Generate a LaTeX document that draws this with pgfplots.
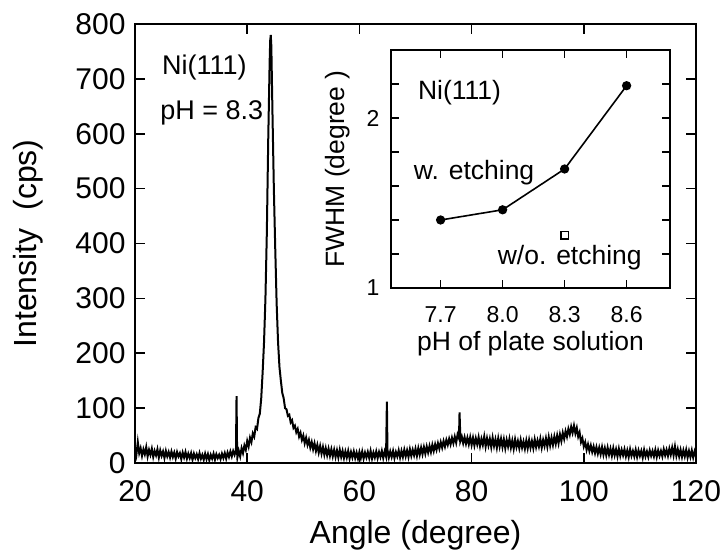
\documentclass[border=0pt]{standalone}
\usepackage{fontspec}
\setmainfont{Liberation Sans}
\usepackage{pgfplots}
\pgfplotsset{compat=1.18}
\newcommand{\tickfont}{\fontsize{30bp}{33bp}\selectfont}
\newcommand{\labfont}{\fontsize{32bp}{35bp}\selectfont}
\newcommand{\txtfont}{\fontsize{27bp}{30bp}\selectfont}
\newcommand{\itickfont}{\fontsize{23bp}{26bp}\selectfont}
\newcommand{\ilabfont}{\fontsize{26.5bp}{29bp}\selectfont}
\begin{document}
\begin{tikzpicture}
\path[use as bounding box] (0,0) rectangle (728bp,556bp);
\begin{axis}[
  at={(135bp,93bp)}, anchor=south west,
  scale only axis, width=561bp, height=439bp,
  xmin=20, xmax=120, ymin=0, ymax=800,
  xtick={20,40,60,80,100,120}, ytick={0,100,...,800},
  /pgf/number format/assume math mode=true,
  tick label style={font=\tickfont},
  major tick length=10bp,
  tick style={line width=1.6bp, black},
  axis line style={line width=1.8bp},
  xticklabel style={yshift=-14bp},
  yticklabel style={xshift=-6bp},
  xlabel={Angle (degree)}, ylabel={Intensity\ \ (cps)},
  label style={font=\labfont},
  xlabel style={at={(axis description cs:0.5,0)}, anchor=center, yshift=-72bp},
  ylabel style={at={(axis description cs:0,0.5)}, anchor=center, yshift=107bp},
]
\addplot[black, line width=2bp] coordinates {
(20,28)(20.25,15)(20.5,38)(20.75,18)(21,27)(21.25,13)(21.5,25)(21.75,16)(22,29)(22.25,12)(22.5,24)(22.75,15)
(23,26)(23.25,11)(23.5,22)(23.75,14)(24,25)(24.25,10)(24.5,23)(24.75,13)(25,21)(25.25,9)(25.5,22)(25.75,12)
(26,20)(26.25,10)(26.5,21)(26.75,11)(27,19)(27.25,8)(27.5,20)(27.75,12)(28,18)(28.25,7)(28.5,19)(28.75,10)
(29,20)(29.25,8)(29.5,17)(29.75,9)(30,18)(30.25,6)(30.5,17)(30.75,9)(31,16)(31.25,7)(31.5,18)(31.75,8)
(32,15)(32.25,6)(32.5,17)(32.75,7)(33,16)(33.25,5)(33.5,15)(33.75,8)(34,17)(34.25,6)(34.5,16)(34.75,9)
(35,15)(35.25,7)(35.5,17)(35.75,9)(36,18)(36.25,8)(36.5,19)(36.75,11)(37,21)(37.25,12)(37.5,22)(37.75,15)
(38,24)(38.1,122)(38.2,20)(38.25,10)(38.5,22)(38.75,12)(39,27)(39.25,18)(39.5,32)(39.75,24)
(40,40)(40.25,30)(40.5,46)(40.75,38)(41,54)(41.25,48)(41.5,65)(41.75,62)(42,82)(42.25,90)(42.5,118)(42.75,165)
(43,220)(43.25,300)(43.5,420)(43.75,590)(44,730)(44.1,770)(44.2,780)(44.3,760)(44.5,640)(44.75,500)
(45,390)(45.25,290)(45.5,220)(45.75,175)(46,150)(46.25,128)(46.5,118)(46.75,100)(47,98)(47.25,86)(47.5,88)(47.75,74)
(48,78)(48.25,64)(48.5,68)(48.75,56)(49,62)(49.25,48)(49.5,55)(49.75,42)(50,50)(50.25,36)(50.5,46)(50.75,33)
(51,42)(51.25,28)(51.5,38)(51.75,25)(52,36)(52.25,22)(52.5,33)(52.75,19)(53,31)(53.25,17)(53.5,29)(53.75,15)
(54,27)(54.25,14)(54.5,26)(54.75,13)(55,25)(55.25,12)(55.5,24)(55.75,11)(56,23)(56.25,10)(56.5,24)(56.75,11)
(57,22)(57.25,9)(57.5,21)(57.75,10)(58,22)(58.25,8)(58.5,20)(58.75,10)(59,21)(59.25,9)(59.5,19)(59.75,8)
(60,20)(60.25,9)(60.5,21)(60.75,8)(61,19)(61.25,10)(61.5,20)(61.75,9)(62,22)(62.25,8)(62.5,19)(62.75,10)
(63,21)(63.25,9)(63.5,20)(63.75,11)(64,22)(64.25,9)(64.5,21)(64.75,12)(64.9,112)(65,24)(65.25,10)(65.5,21)(65.75,11)
(66,22)(66.25,9)(66.5,20)(66.75,12)(67,23)(67.25,10)(67.5,22)(67.75,11)(68,24)(68.25,12)(68.5,23)(68.75,11)
(69,25)(69.25,13)(69.5,24)(69.75,14)(70,26)(70.25,13)(70.5,27)(70.75,15)(71,28)(71.25,16)(71.5,29)(71.75,17)
(72,30)(72.25,19)(72.5,31)(72.75,20)(73,33)(73.25,22)(73.5,34)(73.75,24)(74,36)(74.25,26)(74.5,38)(74.75,28)
(75,40)(75.25,30)(75.5,42)(75.75,33)(76,44)(76.25,34)(76.5,46)(76.75,36)(77,48)(77.25,37)(77.5,52)(77.75,45)
(77.85,92)(77.95,60)(78,40)(78.25,48)(78.5,36)(78.75,47)(79,35)(79.25,46)(79.5,34)(79.75,47)
(80,33)(80.25,46)(80.5,32)(80.75,45)(81,34)(81.25,47)(81.5,31)(81.75,44)(82,33)(82.25,48)(82.5,30)(82.75,45)
(83,32)(83.25,44)(83.5,29)(83.75,46)(84,31)(84.25,43)(84.5,28)(84.75,45)(85,30)(85.25,44)(85.5,29)(85.75,43)
(86,27)(86.25,42)(86.5,30)(86.75,44)(87,28)(87.25,41)(87.5,26)(87.75,43)(88,29)(88.25,40)(88.5,27)(88.75,42)
(89,28)(89.25,39)(89.5,26)(89.75,41)(90,27)(90.25,42)(90.5,28)(90.75,40)(91,27)(91.25,43)(91.5,29)(91.75,41)
(92,30)(92.25,44)(92.5,28)(92.75,42)(93,31)(93.25,45)(93.5,30)(93.75,47)(94,32)(94.25,46)(94.5,33)(94.75,48)
(95,35)(95.25,50)(95.5,36)(95.75,52)(96,40)(96.25,55)(96.5,44)(96.75,58)(97,48)(97.25,62)(97.5,52)(97.75,66)
(98,55)(98.25,68)(98.5,54)(98.75,64)(99,48)(99.25,56)(99.5,38)(99.75,45)(100,30)(100.25,38)(100.5,24)(100.75,34)
(101,22)(101.25,32)(101.5,20)(101.75,30)(102,18)(102.25,29)(102.5,17)(102.75,28)(103,16)(103.25,29)(103.5,15)(103.75,27)
(104,14)(104.25,28)(104.5,15)(104.75,26)(105,13)(105.25,27)(105.5,14)(105.75,25)(106,12)(106.25,26)(106.5,13)(106.75,24)
(107,14)(107.25,25)(107.5,12)(107.75,23)(108,11)(108.25,25)(108.5,13)(108.75,22)(109,12)(109.25,24)(109.5,11)(109.75,23)
(110,13)(110.25,22)(110.5,10)(110.75,24)(111,12)(111.25,21)(111.5,11)(111.75,23)(112,13)(112.25,22)(112.5,12)(112.75,24)
(113,11)(113.25,23)(113.5,13)(113.75,22)(114,12)(114.25,25)(114.5,14)(114.75,24)(115,13)(115.25,26)(115.5,15)(115.75,28)
(116,14)(116.25,30)(116.5,13)(116.75,25)(117,12)(117.25,24)(117.5,11)(117.75,23)(118,12)(118.25,24)(118.5,10)(118.75,22)
(119,11)(119.25,23)(119.5,10)(119.75,21)(120,12)
};
\node[font=\txtfont, anchor=west, inner sep=0pt] at (axis cs:24.8,720) {Ni(111)};
\node[font=\txtfont, anchor=west, inner sep=0pt] at (axis cs:24.5,638) {pH = 8.3};
\end{axis}
\begin{axis}[
  at={(391bp,268bp)}, anchor=south west,
  scale only axis, width=279bp, height=238bp,
  xmin=7.46, xmax=8.81, ymin=1, ymax=2.4,
  axis background/.style={fill=white},
  xtick={7.7,8.0,8.3,8.6}, ytick={1,2},
  minor ytick={1.2,1.4,1.6,1.8,2.2},
  xticklabel style={/pgf/number format/fixed, /pgf/number format/fixed zerofill, /pgf/number format/precision=1, yshift=-15bp},
  yticklabel style={xshift=-8bp},
  /pgf/number format/assume math mode=true,
  tick label style={font=\itickfont},
  major tick length=8bp, minor tick length=8bp,
  tick style={line width=1.4bp, black},
  axis line style={line width=1.6bp},
  xlabel={pH of plate solution}, ylabel={FWHM (degree )},
  label style={font=\ilabfont},
  xlabel style={at={(axis description cs:0.5,0)}, anchor=center, yshift=-56bp},
  ylabel style={at={(axis description cs:0,0.5)}, anchor=center, yshift=53bp},
]
\addplot[black, line width=1.6bp, mark=*, mark size=3.8bp] coordinates {
(7.7,1.40)(8.0,1.46)(8.3,1.70)(8.6,2.19)
};
\addplot[black, line width=1.3bp, only marks, mark=square, mark size=3.6bp] coordinates {
(8.3,1.31)
};
\node[font=\ilabfont, anchor=west, inner sep=0pt] at (axis cs:7.59,2.147) {Ni(111)};
\node[font=\ilabfont, anchor=west, inner sep=0pt] at (axis cs:7.57,1.68) {w. etching};
\node[font=\ilabfont, anchor=west, inner sep=0pt] at (axis cs:7.976,1.18) {w/o. etching};
\end{axis}
\end{tikzpicture}
\end{document}
